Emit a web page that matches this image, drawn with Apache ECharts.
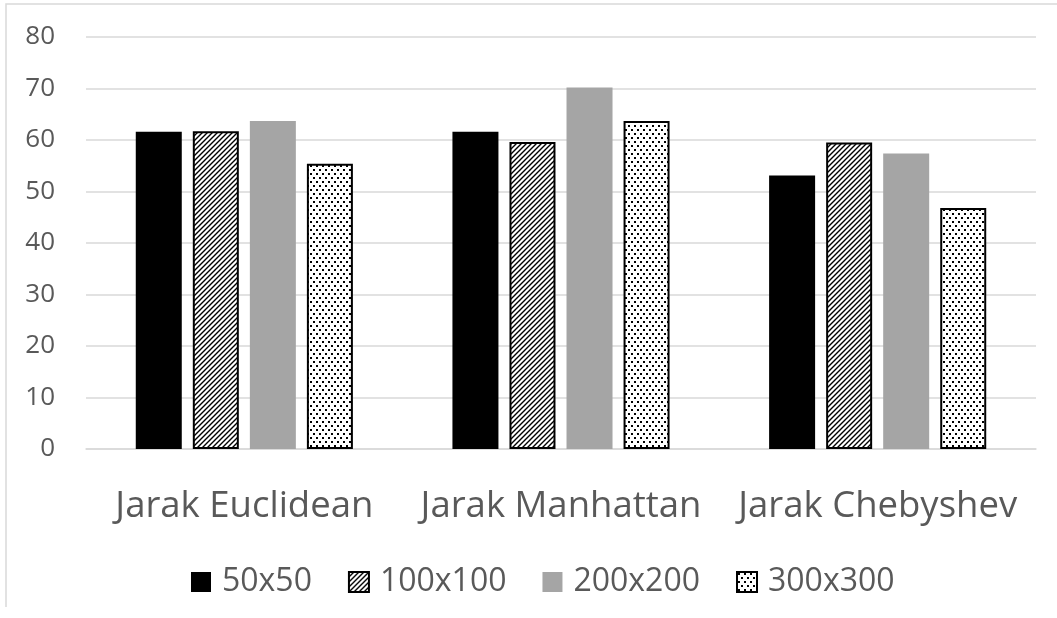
<!DOCTYPE html>
<html>
<head>
<meta charset="utf-8">
<script src="https://cdn.jsdelivr.net/npm/echarts@6/dist/echarts.min.js"></script>
<style>html,body{margin:0;padding:0;background:#fff;}#c{width:1057px;height:618px;}</style>
</head>
<body>
<div id="c"></div>
<script>
const categories = ['Jarak Euclidean', 'Jarak Manhattan', 'Jarak Chebyshev'];
const seriesNames = ['50x50', '100x100', '200x200', '300x300'];
const s50 = [61.6, 61.6, 53.1];
const s100 = [61.7, 59.6, 59.5];
const s200 = [63.7, 70.2, 57.4];
const s300 = [55.4, 63.7, 46.8];
const yTicks = [0, 10, 20, 30, 40, 50, 60, 70, 80];

function hatch() {
  const c = document.createElement('canvas');
  c.width = 5; c.height = 5;
  const g = c.getContext('2d');
  g.fillStyle = '#fff'; g.fillRect(0, 0, 5, 5);
  g.strokeStyle = '#000'; g.lineWidth = 1.4;
  g.beginPath();
  g.moveTo(-1, 6); g.lineTo(6, -1);
  g.moveTo(-1, 1); g.lineTo(1, -1);
  g.moveTo(4, 6); g.lineTo(6, 4);
  g.stroke();
  return c;
}
function dots() {
  const c = document.createElement('canvas');
  c.width = 6; c.height = 8;
  const g = c.getContext('2d');
  g.fillStyle = '#fff'; g.fillRect(0, 0, 6, 8);
  g.fillStyle = '#000';
  g.fillRect(1, 1, 2, 2);
  g.fillRect(4, 5, 2, 2);
  return c;
}

const chart = echarts.init(document.getElementById('c'), null, {renderer: 'canvas'});
const font = 'Open Sans';
const styles = [
  {color: '#000000', borderColor: '#000000', borderWidth: 0},
  {color: {image: hatch(), repeat: 'repeat'}, borderColor: '#000000', borderWidth: 2},
  {color: '#a5a5a5', borderColor: '#a5a5a5', borderWidth: 0},
  {color: {image: dots(), repeat: 'repeat'}, borderColor: '#000000', borderWidth: 2}
];
const data = [s50, s100, s200, s300];

chart.setOption({
  animation: false,
  backgroundColor: '#ffffff',
  graphic: [{
    type: 'polyline',
    shape: {points: [[6, 607], [6, 4], [1057, 4]]},
    style: {stroke: '#d9d9d9', lineWidth: 1.5, fill: null},
    silent: true
  }],
  grid: {left: 86, right: 21, top: 37, bottom: 169, containLabel: false},
  legend: {
    data: seriesNames,
    icon: 'rect',
    left: 186,
    top: 561,
    itemWidth: 20,
    itemHeight: 20,
    itemGap: 36,
    textStyle: {fontFamily: font, fontSize: 32, color: '#595959', padding: [0, 0, 0, 6]}
  },
  xAxis: {
    type: 'category',
    data: categories,
    axisLine: {show: true, lineStyle: {color: '#d9d9d9', width: 1.5}},
    axisTick: {show: false},
    axisLabel: {fontFamily: font, fontSize: 36.5, color: '#595959', margin: 39, interval: 0, hideOverlap: false}
  },
  yAxis: {
    type: 'value',
    min: yTicks[0],
    max: yTicks[yTicks.length - 1],
    interval: 10,
    axisLine: {show: false},
    axisTick: {show: false},
    splitLine: {lineStyle: {color: '#d9d9d9', width: 1.5}},
    axisLabel: {fontFamily: font, fontSize: 26, color: '#595959', margin: 31}
  },
  series: seriesNames.map((n, i) => ({
    name: n,
    type: 'bar',
    data: data[i],
    barWidth: 46,
    barGap: '24%',
    itemStyle: styles[i]
  }))
});
</script>
</body>
</html>
